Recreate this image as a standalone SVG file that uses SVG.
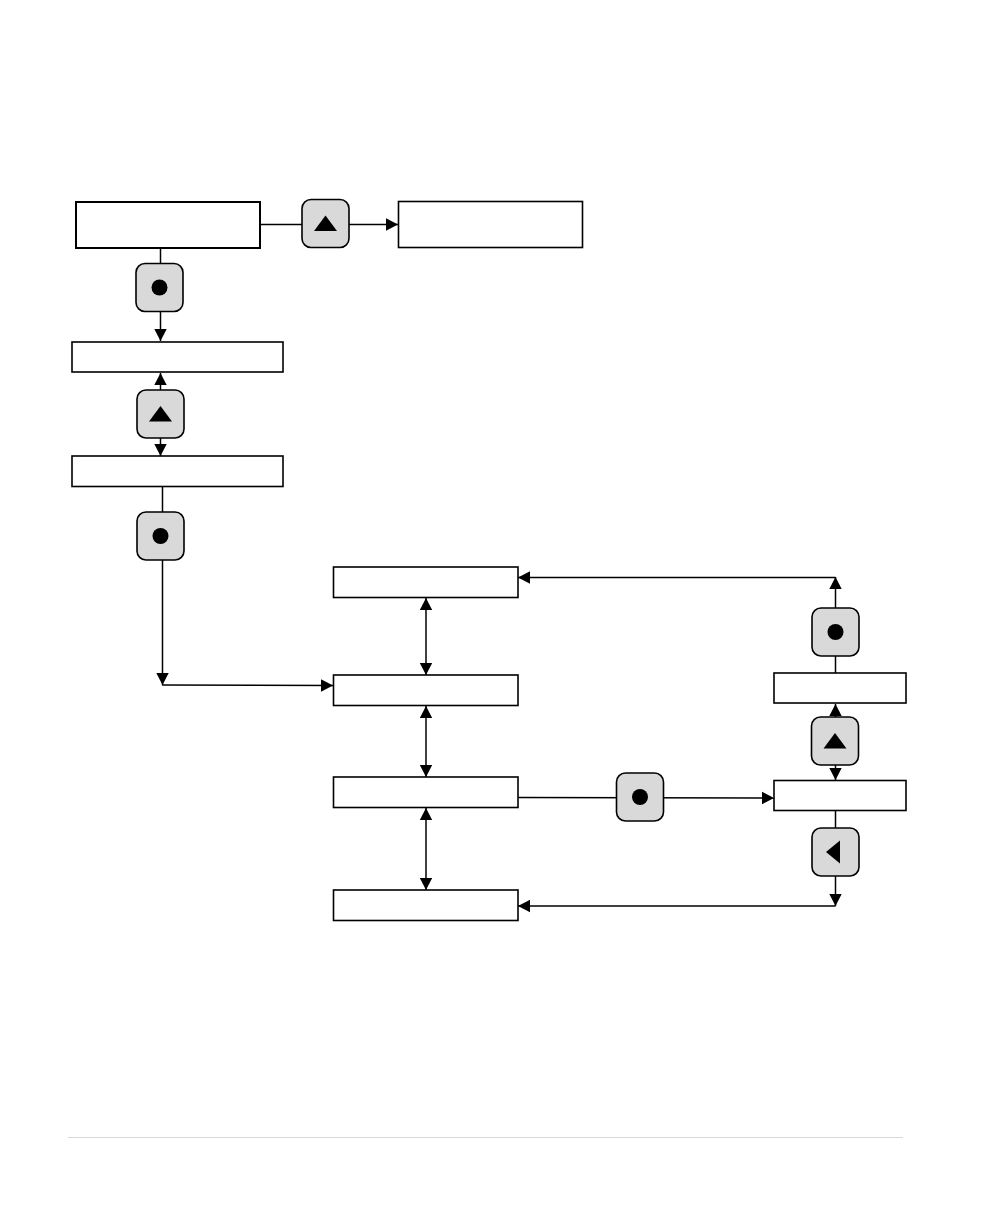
<svg xmlns="http://www.w3.org/2000/svg" width="1008" height="1224" viewBox="0 0 1008 1224">
<style>
.box{fill:#fff;stroke:#000;stroke-width:2}
.thin{stroke-width:1.6}
.btn{fill:#d9d9d9;stroke:#000;stroke-width:1.6}
.ln{fill:none;stroke:#000;stroke-width:1.5}
.g{fill:#000}
</style>
<defs>
<marker id="a" markerUnits="userSpaceOnUse" markerWidth="14" markerHeight="14" refX="12" refY="7" orient="auto"><path d="M0,0.800L12,7L0,13.200z" fill="#000"/></marker>
<marker id="b" markerUnits="userSpaceOnUse" markerWidth="14" markerHeight="14" refX="2" refY="7" orient="auto"><path d="M14,0.800L2,7L14,13.200z" fill="#000"/></marker>
<g id="up"><rect class="btn" x="-23.500" y="-24" width="47" height="48" rx="9"/><path class="g" d="M-11.500,7.500L0,-8L11.500,7.500z"/></g>
<g id="dot"><rect class="btn" x="-23.500" y="-24" width="47" height="48" rx="9"/><circle class="g" cx="0" cy="0" r="8"/></g>
<g id="left"><rect class="btn" x="-23.500" y="-24" width="47" height="48" rx="9"/><path class="g" d="M-9.500,0L4.500,-11.500V11.500z"/></g>
</defs>
<rect width="1008" height="1224" fill="#fff"/>
<path d="M68,1137.500H903" stroke="#d8d8d8" stroke-width="1" fill="none"/>
<g id="connectors">
<path class="ln" d="M260,224.500H398" marker-end="url(#a)"/>
<path class="ln" d="M160.500,248V341" marker-end="url(#a)"/>
<path class="ln" d="M160.500,373V456" marker-start="url(#b)" marker-end="url(#a)"/>
<path class="ln" d="M162.500,487V685" marker-end="url(#a)"/>
<path class="ln" d="M162,685L333,685.500" marker-end="url(#a)"/>
<path class="ln" d="M426,598V675" marker-start="url(#b)" marker-end="url(#a)"/>
<path class="ln" d="M426,706V777" marker-start="url(#b)" marker-end="url(#a)"/>
<path class="ln" d="M426,808V890" marker-start="url(#b)" marker-end="url(#a)"/>
<path class="ln" d="M518,797.500L774,798" marker-end="url(#a)"/>
<path class="ln" d="M835.500,704V780" marker-start="url(#b)" marker-end="url(#a)"/>
<path class="ln" d="M835.500,811V906" marker-end="url(#a)"/>
<path class="ln" d="M835.500,906L518,906" marker-end="url(#a)"/>
<path class="ln" d="M835.500,673V577" marker-end="url(#a)"/>
<path class="ln" d="M835.500,577.500H518" marker-end="url(#a)"/>
</g>
<g id="n1"><rect class="box" x="76" y="202" width="184" height="46"/></g>
<g id="n2"><rect class="box thin" x="398.500" y="201.500" width="184" height="46"/></g>
<g id="n3"><rect class="box thin" x="72" y="342" width="211" height="30"/></g>
<g id="n4"><rect class="box thin" x="72" y="456" width="211" height="30.500"/></g>
<g id="n5"><rect class="box thin" x="333.500" y="567" width="184.500" height="30.500"/></g>
<g id="n6"><rect class="box thin" x="333.500" y="675" width="184.500" height="30.500"/></g>
<g id="n7"><rect class="box thin" x="333.500" y="777" width="184.500" height="30.500"/></g>
<g id="n8"><rect class="box thin" x="333.500" y="890" width="184.500" height="30.500"/></g>
<g id="n9"><rect class="box thin" x="774" y="673" width="132" height="30"/></g>
<g id="n10"><rect class="box thin" x="774" y="780.500" width="132" height="30"/></g>
<g id="b1"><use href="#up" x="325.500" y="223.500"/></g>
<g id="b2"><use href="#dot" x="159.500" y="287.500"/></g>
<g id="b3"><use href="#up" x="160.500" y="414"/></g>
<g id="b4"><use href="#dot" x="160.500" y="536"/></g>
<g id="b5"><use href="#dot" x="835.500" y="632"/></g>
<g id="b6"><use href="#up" x="835" y="741"/></g>
<g id="b7"><use href="#dot" x="640" y="797"/></g>
<g id="b8"><use href="#left" x="835.500" y="852"/></g>
</svg>
